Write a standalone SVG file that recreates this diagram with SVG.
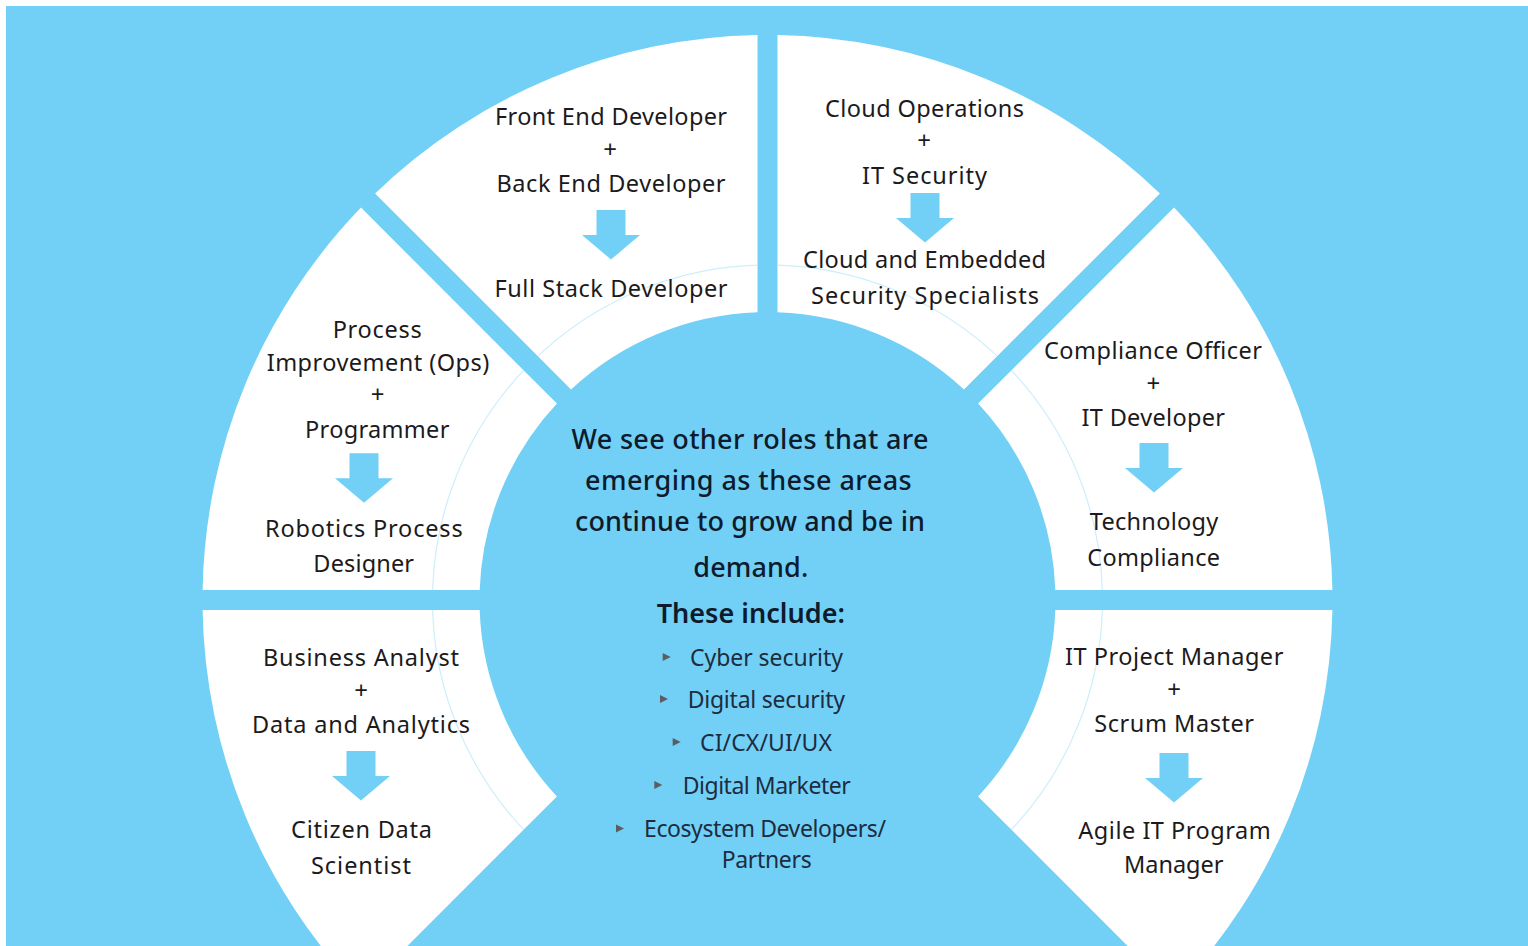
<svg xmlns="http://www.w3.org/2000/svg" xmlns:xlink="http://www.w3.org/1999/xlink" width="1528" height="946" viewBox="0 0 1528 946">
<defs>
<style>
.bg{fill:#72d0f6}
.sector{fill:#ffffff}
.t{font-family:"Noto Sans","Open Sans","DejaVu Sans",sans-serif;font-size:23.5px;fill:#1c1a1b;text-anchor:middle}
.p{font-size:24px}
.h{font-family:"Noto Sans","Open Sans","DejaVu Sans",sans-serif;font-size:27px;fill:#0e1b2c;text-anchor:middle;font-weight:500}
.hb{font-weight:600}
.b{font-family:"Noto Sans","Open Sans","DejaVu Sans",sans-serif;font-size:23px;fill:#1d2c3e;text-anchor:middle}
.tri{fill:#5b5d63}
.arr{fill:#72d0f6}
.faint{fill:none;stroke:#cdeefb;stroke-width:1.2}
</style>
<path id="arrow" d="M-14.5,0H14.5V25H29L0,49.5L-29,25H-14.5Z"/>
<circle id="fc" cx="767.5" cy="600" r="335"/>
<path id="pA" d="M375.12,193.48A565,565 0 0 1 757.5,35.09L757.5,312.17A288,288 0 0 0 571.05,389.41Z"/>
<path id="pB" d="M777.5,35.09A565,565 0 0 1 1159.88,193.48L963.95,389.41A288,288 0 0 0 777.5,312.17Z"/>
<path id="pC" d="M1174.02,207.62A565,565 0 0 1 1332.41,590L1055.33,590A288,288 0 0 0 978.09,403.55Z"/>
<path id="pD" d="M1332.41,610A565,565 0 0 1 1174.02,992.38L978.09,796.45A288,288 0 0 0 1055.33,610Z"/>
<path id="pE" d="M360.98,992.38A565,565 0 0 1 202.59,610L479.67,610A288,288 0 0 0 556.91,796.45Z"/>
<path id="pF" d="M202.59,590A565,565 0 0 1 360.98,207.62L556.91,403.55A288,288 0 0 0 479.67,590Z"/>
<clipPath id="cA"><use xlink:href="#pA"/></clipPath>
<clipPath id="cB"><use xlink:href="#pB"/></clipPath>
<clipPath id="cC"><use xlink:href="#pC"/></clipPath>
<clipPath id="cD"><use xlink:href="#pD"/></clipPath>
<clipPath id="cE"><use xlink:href="#pE"/></clipPath>
<clipPath id="cF"><use xlink:href="#pF"/></clipPath>
<polygon id="bul" points="0,-4 8,0 0,4"/>
</defs>

<rect x="0" y="0" width="1528" height="946" fill="#ffffff"/>
<rect class="bg" x="6" y="6" width="1522" height="940"/>

<g id="connectors"></g>

<g id="node-frontend">
<use xlink:href="#pA" class="sector"/>
<use xlink:href="#fc" class="faint" clip-path="url(#cA)"/>
<text class="t" x="611" y="125" textLength="232" lengthAdjust="spacing">Front End Developer</text>
<text class="t p" x="610" y="158">+</text>
<text class="t" x="611" y="192" textLength="229" lengthAdjust="spacing">Back End Developer</text>
<use xlink:href="#arrow" class="arr" x="611" y="210"/>
<text class="t" x="611" y="297" textLength="233" lengthAdjust="spacing">Full Stack Developer</text>
</g>

<g id="node-cloud">
<use xlink:href="#pB" class="sector"/>
<use xlink:href="#fc" class="faint" clip-path="url(#cB)"/>
<text class="t" x="924.5" y="116.5" textLength="199" lengthAdjust="spacing">Cloud Operations</text>
<text class="t p" x="924" y="149">+</text>
<text class="t" x="924.5" y="183.5" textLength="125" lengthAdjust="spacing">IT Security</text>
<use xlink:href="#arrow" class="arr" x="925" y="193"/>
<text class="t" x="924.5" y="267.5" textLength="243" lengthAdjust="spacing">Cloud and Embedded</text>
<text class="t" x="925" y="303.5" textLength="228" lengthAdjust="spacing">Security Specialists</text>
</g>

<g id="node-compliance">
<use xlink:href="#pC" class="sector"/>
<use xlink:href="#fc" class="faint" clip-path="url(#cC)"/>
<text class="t" x="1153" y="358.5" textLength="218" lengthAdjust="spacing">Compliance Officer</text>
<text class="t p" x="1153.3" y="392">+</text>
<text class="t" x="1153.3" y="426" textLength="143.5" lengthAdjust="spacing">IT Developer</text>
<use xlink:href="#arrow" class="arr" x="1154" y="443"/>
<text class="t" x="1154" y="530" textLength="128.5" lengthAdjust="spacing">Technology</text>
<text class="t" x="1153.7" y="565.5" textLength="132.7" lengthAdjust="spacing">Compliance</text>
</g>

<g id="node-pm">
<use xlink:href="#pD" class="sector"/>
<use xlink:href="#fc" class="faint" clip-path="url(#cD)"/>
<text class="t" x="1174.2" y="665" textLength="218.3" lengthAdjust="spacing">IT Project Manager</text>
<text class="t p" x="1174" y="698">+</text>
<text class="t" x="1174.2" y="731.7" textLength="159.7" lengthAdjust="spacing">Scrum Master</text>
<use xlink:href="#arrow" class="arr" x="1174" y="753"/>
<text class="t" x="1174.5" y="839.3" textLength="192.4" lengthAdjust="spacing">Agile IT Program</text>
<text class="t" x="1173.7" y="873.3" textLength="99.3" lengthAdjust="spacing">Manager</text>
</g>

<g id="node-analyst">
<use xlink:href="#pE" class="sector"/>
<use xlink:href="#fc" class="faint" clip-path="url(#cE)"/>
<text class="t" x="361" y="665.5" textLength="196" lengthAdjust="spacing">Business Analyst</text>
<text class="t p" x="361" y="699">+</text>
<text class="t" x="361" y="732.5" textLength="218" lengthAdjust="spacing">Data and Analytics</text>
<use xlink:href="#arrow" class="arr" x="361" y="751"/>
<text class="t" x="361.5" y="838" textLength="141" lengthAdjust="spacing">Citizen Data</text>
<text class="t" x="361" y="873.5" textLength="100" lengthAdjust="spacing">Scientist</text>
</g>

<g id="node-process">
<use xlink:href="#pF" class="sector"/>
<use xlink:href="#fc" class="faint" clip-path="url(#cF)"/>
<text class="t" x="377.2" y="337.7" textLength="89" lengthAdjust="spacing">Process</text>
<text class="t" x="378" y="371" textLength="222.6" lengthAdjust="spacing">Improvement (Ops)</text>
<text class="t p" x="377.7" y="403">+</text>
<text class="t" x="377.2" y="438.3" textLength="144.3" lengthAdjust="spacing">Programmer</text>
<use xlink:href="#arrow" class="arr" x="364" y="453.3"/>
<text class="t" x="363.8" y="536.7" textLength="197.7" lengthAdjust="spacing">Robotics Process</text>
<text class="t" x="363.7" y="571.7" textLength="100.7" lengthAdjust="spacing">Designer</text>
</g>

<g id="node-center">
<text class="h" x="750" y="449.3" textLength="357" lengthAdjust="spacing">We see other roles that are</text>
<text class="h" x="748.3" y="490" textLength="326.7" lengthAdjust="spacing">emerging as these areas</text>
<text class="h" x="750" y="530.7" textLength="350" lengthAdjust="spacing">continue to grow and be in</text>
<text class="h" x="750.8" y="576.7" textLength="115" lengthAdjust="spacing">demand.</text>
<text class="h hb" x="750.8" y="622.7" textLength="188.3" lengthAdjust="spacing">These include:</text>
<use xlink:href="#bul" class="tri" x="662.7" y="657"/>
<text class="b" x="766.5" y="666" textLength="153" lengthAdjust="spacing">Cyber security</text>
<use xlink:href="#bul" class="tri" x="660" y="699"/>
<text class="b" x="766.3" y="708.3" textLength="157.3" lengthAdjust="spacing">Digital security</text>
<use xlink:href="#bul" class="tri" x="672.7" y="742"/>
<text class="b" x="766" y="751" textLength="132" lengthAdjust="spacing">CI/CX/UI/UX</text>
<use xlink:href="#bul" class="tri" x="654.3" y="785"/>
<text class="b" x="766.7" y="794" textLength="168" lengthAdjust="spacing">Digital Marketer</text>
<use xlink:href="#bul" class="tri" x="616" y="828.5"/>
<text class="b" x="765" y="836.7" textLength="242" lengthAdjust="spacing">Ecosystem Developers/</text>
<text class="b" x="766.7" y="868.3" textLength="90" lengthAdjust="spacing">Partners</text>
</g>
</svg>
